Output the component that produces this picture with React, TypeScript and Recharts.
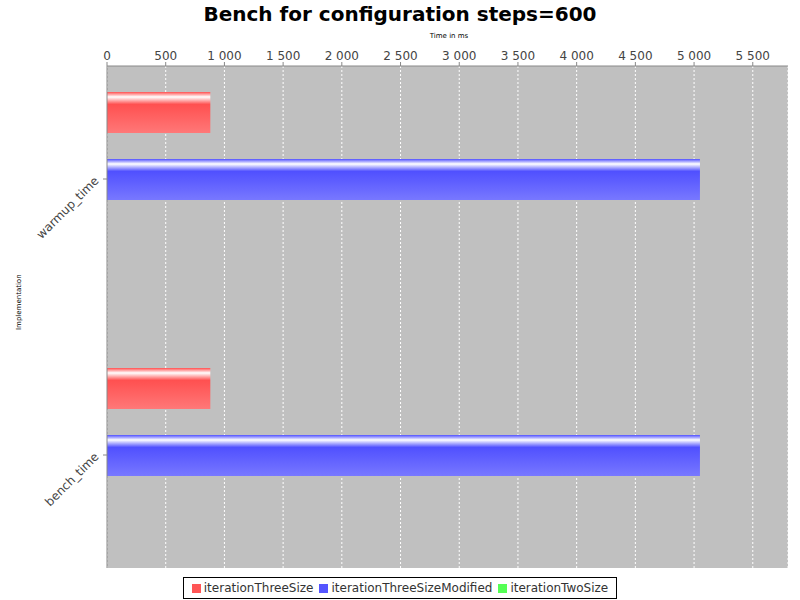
import { BarChart, Bar, XAxis, YAxis, CartesianGrid } from 'recharts';

const categories = ['warmup_time', 'bench_time'];
const threeSize = [880, 880];
const threeSizeModified = [5050, 5050];
const twoSize = [0, 0];
const xTicks = [0, 500, 1000, 1500, 2000, 2500, 3000, 3500, 4000, 4500, 5000, 5500];

const data = categories.map((name, i) => ({
    name,
    iterationThreeSize: threeSize[i],
    iterationThreeSizeModified: threeSizeModified[i],
    iterationTwoSize: twoSize[i],
}));

const fmt = (v: number) => v >= 1000 ? `${Math.floor(v / 1000)} ${String(v % 1000).padStart(3, '0')}` : String(v);

const font = '"DejaVu Sans", sans-serif';

function CatTick(props: any) {
    const { x, y, payload } = props;
    return (
        <text x={x - 4} y={y} transform={`rotate(-45 ${x - 4} ${y})`} textAnchor="end" dominantBaseline="middle" fontSize={12} fill="#444" fontFamily={font}>
            {payload.value}
        </text>
    );
}

function Grad({ id, base, light }: { id: string, base: string, light: string }) {
    return (
        <linearGradient id={id} x1="0" y1="0" x2="0" y2="1">
            <stop offset="0" stopColor={base} />
            <stop offset="0.12" stopColor="#ffffff" />
            <stop offset="0.3" stopColor={base} />
            <stop offset="1" stopColor={light} />
        </linearGradient>
    );
}

const legend = [
    { label: 'iterationThreeSize', color: '#ff5555' },
    { label: 'iterationThreeSizeModified', color: '#5555ff' },
    { label: 'iterationTwoSize', color: '#55ff55' },
];

export default function App() {
    return (
        <div style={{ position: 'absolute', left: 0, top: 0, width: 800, height: 600, background: '#fff', fontFamily: font }}>
            <div style={{ position: 'absolute', top: 2, width: 800, textAlign: 'center', fontSize: 20, fontWeight: 'bold' }}>
                Bench for configuration steps=600
            </div>
            <div style={{ position: 'absolute', top: 32, left: 0, width: 898, textAlign: 'center', fontSize: 7 }}>Time in ms</div>
            <div style={{ position: 'absolute', left: 15, top: 330, fontSize: 7, transform: 'rotate(-90deg)', transformOrigin: 'left top', whiteSpace: 'nowrap' }}>
                Implementation
            </div>
            <BarChart width={800} height={600} data={data} layout="vertical" barSize={41} barGap={26} barCategoryGap={50}
                margin={{ top: 10, right: 12, bottom: 32, left: 7 }}>
                <defs>
                    <Grad id="gRed" base="#ff5050" light="#ff7878" />
                    <Grad id="gBlue" base="#5050ff" light="#7878ff" />
                    <Grad id="gGreen" base="#50ff50" light="#78ff78" />
                </defs>
                <CartesianGrid fill="#c0c0c0" stroke="#ffffff" strokeDasharray="2 2" horizontal={false} />
                <XAxis type="number" orientation="top" height={56} domain={[0, 5800]} ticks={xTicks} tickFormatter={fmt}
                    tick={{ fontSize: 12, fill: '#444', fontFamily: font }} stroke="#888" tickSize={4} interval={0} />
                <YAxis type="category" dataKey="name" width={100} padding={{ top: -25, bottom: -25 }} tick={<CatTick />} stroke="#888" tickSize={4} />
                <Bar dataKey="iterationThreeSize" fill="url(#gRed)" isAnimationActive={false} />
                <Bar dataKey="iterationThreeSizeModified" fill="url(#gBlue)" isAnimationActive={false} />
                <Bar dataKey="iterationTwoSize" fill="url(#gGreen)" isAnimationActive={false} />
            </BarChart>
            <div style={{ position: 'absolute', left: 183, top: 577, width: 432, height: 20, border: '1px solid #000', display: 'flex', alignItems: 'center', justifyContent: 'center', fontSize: 12, color: '#333', gap: 6 }}>
                {legend.map(l => (
                    <span key={l.label} style={{ display: 'flex', alignItems: 'center', gap: 3 }}>
                        <span style={{ width: 9, height: 9, background: l.color, display: 'inline-block' }} />{l.label}
                    </span>
                ))}
            </div>
        </div>
    );
}
